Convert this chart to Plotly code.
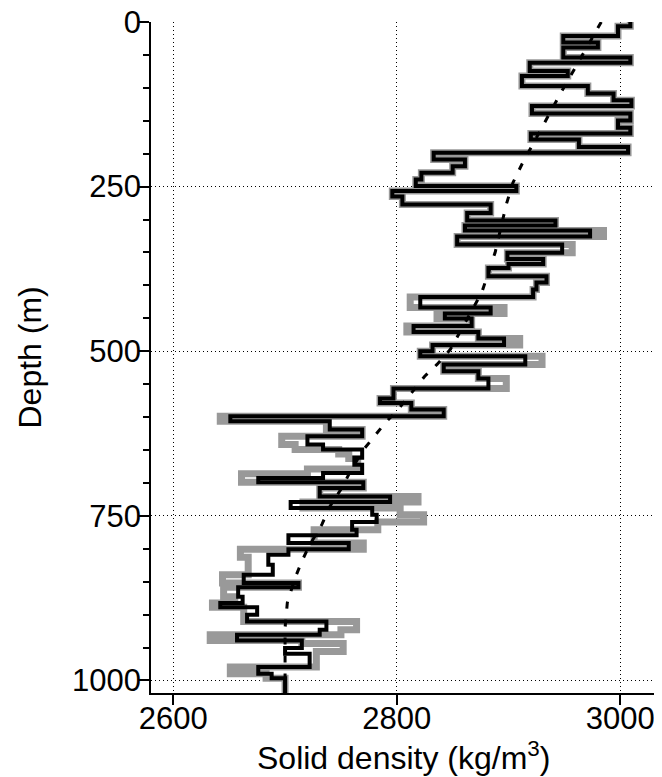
import plotly.graph_objects as go

# ---- data ----
# black log: density of each layer and depth of its top (m)
black_density = [3009, 2998, 2949, 2980, 2949, 3009, 2919, 2953, 2912, 2971,
                 2994, 3010, 2921, 3009, 2998, 3009, 2920, 2963, 3007, 2833,
                 2861, 2850, 2822, 2817, 2907, 2796, 2805, 2884, 2863, 2942,
                 2861, 2973, 2854, 2948, 2899, 2931, 2900, 2882, 2934, 2925,
                 2922, 2821, 2884, 2843, 2867, 2815, 2873, 2896, 2832, 2821,
                 2915, 2842, 2873, 2882, 2797, 2785, 2813, 2842, 2651, 2740,
                 2769, 2720, 2734, 2769, 2762, 2769, 2734, 2676, 2770, 2731,
                 2794, 2705, 2778, 2782, 2760, 2764, 2703, 2757, 2703, 2685,
                 2689, 2663, 2712, 2658, 2662, 2642, 2675, 2666, 2737, 2731,
                 2657, 2715, 2700, 2722, 2676, 2688, 2700]
black_top = [0, 6.5, 21.3, 31.3, 38.9, 54.1, 61.7, 74.5, 82.1, 97.3,
             108.4, 119.0, 127.7, 138.8, 149.4, 160.5, 169.2, 178.3, 189.7, 198.5,
             208.7, 218.9, 228.9, 239.1, 249.2, 256.8, 264.9, 277.1, 290.0, 301.4,
             309.0, 316.6, 325.7, 337.8, 350.5, 359.9, 367.5, 373.6, 386.0, 395.6,
             406.2, 417.6, 433.6, 442.7, 450.3, 461.7, 470.8, 480.7, 490.6, 500.0,
             507.6, 520.2, 530.4, 541.5, 556.7, 571.9, 578.7, 588.6, 598.8, 606.4,
             619.0, 629.2, 641.8, 649.4, 661.6, 672.2, 684.8, 692.4, 698.8, 707.6,
             720.4, 728.9, 738.0, 748.2, 759.2, 770.9, 779.6, 791.2, 800.6, 809.0,
             824.2, 839.4, 852.0, 858.4, 872.8, 882.4, 888.8, 900.2, 910.4, 923.0,
             930.6, 939.3, 950.8, 959.5, 979.7, 989.9, 996.7]

# grey log
gray_density = [3009, 2998, 2949, 2980, 2949, 3009, 2919, 2953, 2912, 2971,
                2994, 3010, 2921, 3009, 2998, 3009, 2920, 2963, 3007, 2833,
                2861, 2850, 2822, 2817, 2907, 2796, 2805, 2884, 2863, 2942,
                2861, 2985, 2854, 2957, 2899, 2931, 2900, 2882, 2934, 2925,
                2922, 2812, 2896, 2836, 2867, 2809, 2873, 2910, 2832, 2821,
                2930, 2842, 2873, 2898, 2797, 2785, 2813, 2842, 2642, 2737,
                2769, 2697, 2709, 2748, 2757, 2765, 2720, 2661, 2770, 2731,
                2819, 2716, 2803, 2824, 2783, 2726, 2770, 2660, 2667, 2644,
                2712, 2645, 2655, 2635, 2663, 2764, 2750, 2633, 2715, 2752,
                2728, 2651, 2683, 2700]
gray_top = [0, 6.5, 21.3, 31.3, 38.9, 54.1, 61.7, 74.5, 82.1, 97.3,
            108.4, 119.0, 127.7, 138.8, 149.4, 160.5, 169.2, 178.3, 189.7, 198.5,
            208.7, 218.9, 228.9, 239.1, 249.2, 256.8, 264.9, 277.1, 290.0, 301.4,
            309.0, 316.6, 325.7, 337.8, 350.5, 359.9, 367.5, 373.6, 386.0, 395.6,
            406.2, 417.6, 433.6, 442.7, 450.3, 461.7, 470.8, 480.7, 490.6, 500.0,
            507.6, 520.2, 530.4, 541.5, 556.7, 571.9, 578.7, 588.6, 598.8, 606.4,
            619.0, 629.2, 641.8, 649.4, 656.0, 663.0, 679.0, 686.0, 698.8, 707.6,
            720.4, 728.9, 738.0, 748.2, 759.2, 771.0, 791.2, 800.6, 813.0, 839.4,
            852.0, 858.4, 872.8, 882.4, 888.8, 910.4, 923.0, 930.6, 939.3, 944.0,
            956.0, 979.7, 989.9, 996.7]

log_bottom = 1019

# dashed trend
trend_density = [2983, 2946, 2930, 2921, 2912, 2904, 2898, 2888, 2882, 2876,
                 2848, 2836, 2825, 2812, 2801, 2790, 2779, 2769, 2758, 2751,
                 2740, 2733, 2722, 2715, 2709, 2702, 2700, 2700]
trend_depth = [0, 110, 160, 188, 216, 244, 277, 350, 380, 411,
               497, 520, 538, 566, 589, 608, 631, 652, 684, 707,
               736, 763, 794, 819, 844, 882, 920, 1019]

x_ticks = [2600, 2800, 3000]
y_ticks = [0, 250, 500, 750, 1000]


def step_points(dens, tops, bottom):
    return dens + [dens[-1]], tops + [bottom]


FONT = "Liberation Sans"

fig = go.Figure()
gx, gy = step_points(gray_density, gray_top, log_bottom)
fig.add_trace(go.Scatter(x=gx, y=gy, mode="lines",
                         line=dict(shape="vh", color="#999999", width=7),
                         hoverinfo="skip", showlegend=False))
fig.add_trace(go.Scatter(x=trend_density, y=trend_depth, mode="lines",
                         line=dict(color="black", width=3, dash="7px,11px"),
                         hoverinfo="skip", showlegend=False))
bx, by = step_points(black_density, black_top, log_bottom)
fig.add_trace(go.Scatter(x=bx, y=by, mode="lines",
                         line=dict(shape="vh", color="black", width=4),
                         hoverinfo="skip", showlegend=False))

axis_common = dict(
    showline=True, linecolor="black", linewidth=1.5,
    ticks="outside", tickcolor="black", tickwidth=1.5,
    showgrid=True, gridcolor="black", gridwidth=1, griddash="1px,3px",
    zeroline=False, ticklabeloverflow="allow", automargin=False,
    tickfont=dict(family=FONT, size=31, color="black"),
)

# the page places the figure 8 px from the top-left corner of the window,
# so the figure is sized to fill the remaining 662x777 window area
fig.update_layout(
    width=654, height=769,
    margin=dict(l=143, r=6, t=14, b=84, autoexpand=False),
    paper_bgcolor="white", plot_bgcolor="white",
    font=dict(family=FONT, color="black"),
    xaxis=dict(range=[2580, 3032], tickvals=x_ticks, ticklen=10,
               ticklabelstandoff=-13, **axis_common),
    yaxis=dict(range=[1019, 0], tickvals=y_ticks, ticklen=11, mirror=True,
               ticklabelstandoff=-9,
               minor=dict(dtick=50, ticks="outside", ticklen=6,
                          tickcolor="black", tickwidth=1.5, showgrid=False),
               **axis_common),
    annotations=[
        dict(text="Solid density (kg/m<sup>3</sup>)", xref="paper", yref="paper",
             x=0.5, y=0, xanchor="center", yanchor="top", yshift=-41,
             showarrow=False, font=dict(family=FONT, size=32, color="black")),
        dict(text="Depth (m)", xref="paper", yref="paper", textangle=-90,
             x=0, y=0.5, xanchor="center", yanchor="middle", xshift=-122,
             showarrow=False, font=dict(family=FONT, size=32, color="black")),
    ],
)

fig.write_html("out.html")
